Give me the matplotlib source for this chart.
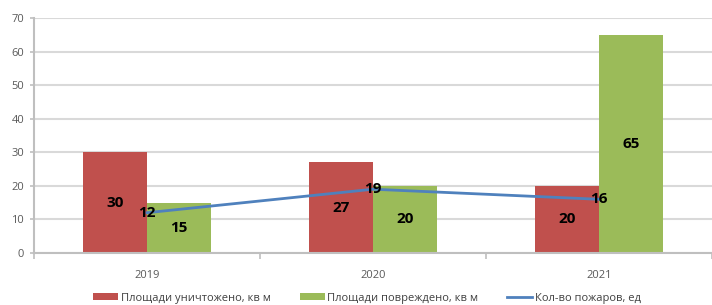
import numpy as np
import matplotlib
matplotlib.use("Agg")
import matplotlib.pyplot as plt

plt.rcParams['font.family'] = ['Open Sans', 'DejaVu Sans']

# Data
years = ['2019', '2020', '2021']
destroyed = [30, 27, 20]      # Площади уничтожено, кв м
damaged = [15, 20, 65]        # Площади повреждено, кв м
fires = [12, 19, 16]          # Кол-во пожаров, ед

red = '#C0504D'
green = '#9BBB59'
blue = '#4F81BD'
grid_c = '#D9D9D9'
axis_c = '#BFBFBF'
text_c = '#595959'

fig = plt.figure(figsize=(7.12, 3.05), dpi=100)
ax = fig.add_axes([34 / 712, 1 - 253 / 305, 1 - 34 / 712, (253 - 18) / 305])

x = np.arange(len(years))
w = 0.283

b1 = ax.bar(x - w / 2, destroyed, w, color=red, label='Площади уничтожено, кв м', zorder=2)
b2 = ax.bar(x + w / 2, damaged, w, color=green, label='Площади повреждено, кв м', zorder=2)
ln, = ax.plot(x, fires, color=blue, lw=2, label='Кол-во пожаров, ед', zorder=3)

for bars, vals in ((b1, destroyed), (b2, damaged)):
    for b, v in zip(bars, vals):
        ax.text(b.get_x() + b.get_width() / 2, v / 2, str(v), ha='center', va='center',
                fontsize=11, fontweight='bold', color='black', zorder=4)
for xi, v in zip(x, fires):
    ax.text(xi, v, str(v), ha='center', va='center', fontsize=11, fontweight='bold',
            color='black', zorder=4)

ax.set_xlim(-0.5, len(years) - 0.5)
ax.set_ylim(0, 70)
ax.set_yticks(range(0, 71, 10))
ax.yaxis.grid(True, color=grid_c, lw=1.5, zorder=0)
ax.set_axisbelow(True)

ax.set_xticks(x)
ax.set_xticklabels(years)
ax.set_xticks(np.arange(-0.5, len(years), 1), minor=True)
ax.tick_params(axis='x', which='major', length=0, pad=12, labelsize=8, labelcolor=text_c)
ax.tick_params(axis='x', which='minor', length=4, color=axis_c, width=1.2)
ax.tick_params(axis='y', length=3, color=axis_c, width=1.2, labelsize=8, labelcolor=text_c, pad=4)

for s in ('top', 'right'):
    ax.spines[s].set_visible(False)
ax.spines['left'].set_color(axis_c)
ax.spines['left'].set_linewidth(1.5)
ax.spines['bottom'].set_color(axis_c)
ax.spines['bottom'].set_linewidth(1.5)

leg = fig.legend(handles=[b1, b2, ln], loc='center', bbox_to_anchor=(367 / 712, 1 - 298 / 305),
                 ncol=3, frameon=False, fontsize=8, handlelength=2.25, handleheight=0.55,
                 columnspacing=2.6, handletextpad=0.25, borderpad=0)
for t in leg.get_texts():
    t.set_color('#404040')

fig.savefig('out.png', dpi=100)
